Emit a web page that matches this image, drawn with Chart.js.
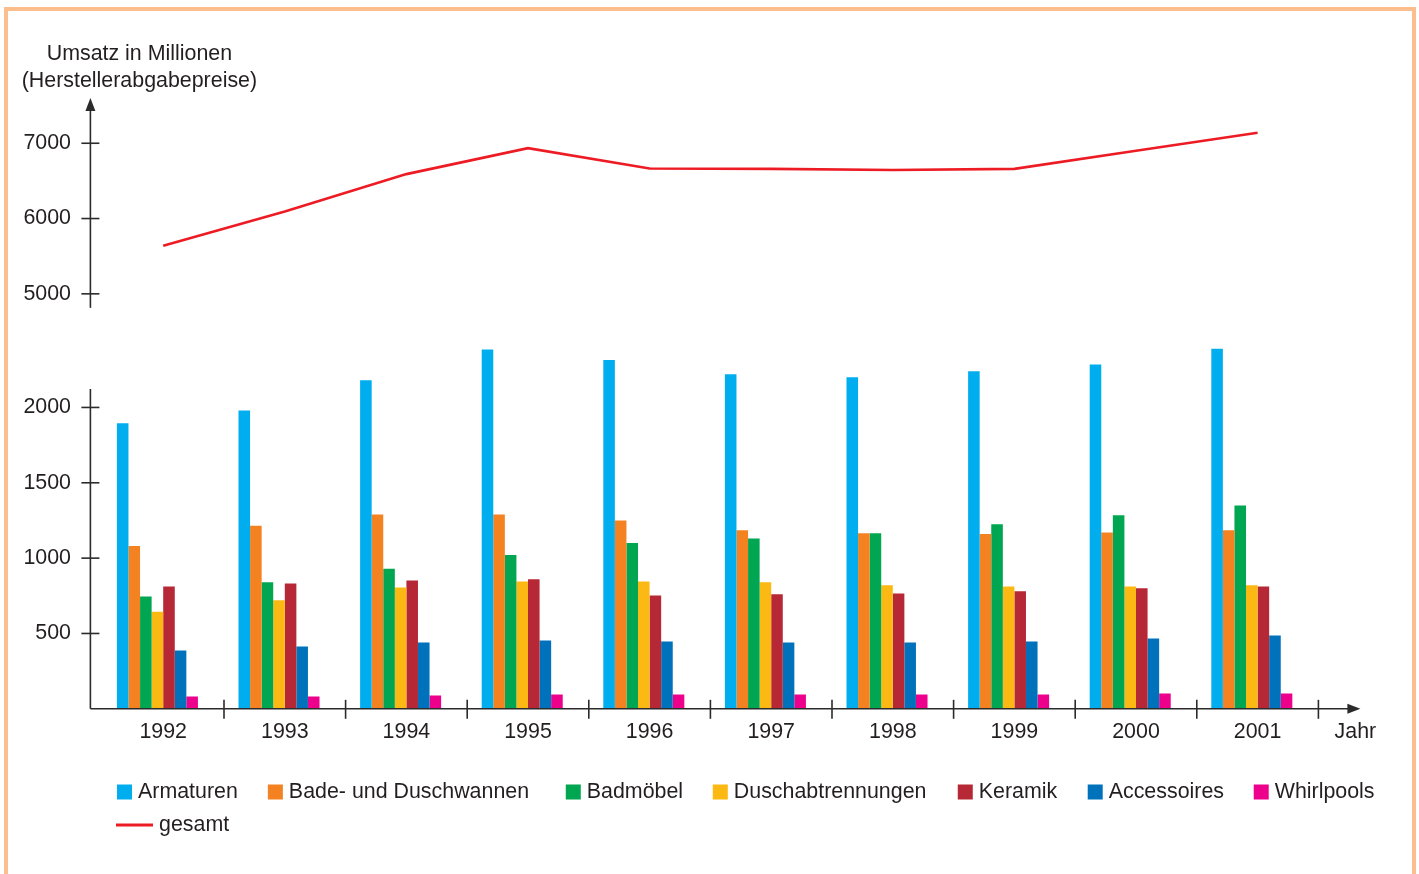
<!DOCTYPE html>
<html>
<head>
<meta charset="utf-8">
<script src="https://cdn.jsdelivr.net/npm/chart.js@4.4.1/dist/chart.umd.min.js"></script>
<style>
  html, body { margin: 0; padding: 0; background: #ffffff; }
  #wrap { position: relative; width: 1419px; height: 874px; overflow: hidden; background: #fff; }
  #frame { position: absolute; left: 4px; top: 7px; width: 1412px; height: 1000px;
           border: 4px solid #FBBE8C; box-sizing: border-box; }
  #c { position: absolute; left: 0; top: 0; }
</style>
</head>
<body>
<div id="wrap">
  <div id="frame"></div>
  <canvas id="c" width="1419" height="874"></canvas>
</div>
<script>
// ---------- data ----------
const years = ['1992', '1993', '1994', '1995', '1996', '1997', '1998', '1999', '2000', '2001'];
const armaturen   = [1895, 1980, 2180, 2385, 2315, 2220, 2200, 2240, 2285, 2390];
const badeDusch   = [1080, 1215, 1290, 1290, 1250, 1185, 1165, 1160, 1170, 1185];
const badmoebel   = [745, 840, 930, 1020, 1100, 1130, 1165, 1225, 1285, 1350];
const duschabtr   = [645, 720, 805, 845, 845, 840, 820, 812, 812, 820];
const keramik     = [812, 832, 852, 860, 752, 760, 766, 780, 800, 812];
const accessoires = [387, 414, 440, 454, 447, 440, 440, 447, 467, 487];
const whirlpools  = [82, 82, 88, 95, 95, 95, 95, 95, 102, 102];
const gesamt      = [5640, 6095, 6590, 6935, 6665, 6660, 6645, 6660, 6900, 7140];
const lowerTicks  = [500, 1000, 1500, 2000];
const upperTicks  = [5000, 6000, 7000];
const seriesNames = ['Armaturen', 'Bade- und Duschwannen', 'Badmöbel', 'Duschabtrennungen',
                     'Keramik', 'Accessoires', 'Whirlpools'];
const lineName    = 'gesamt';
const yTitle      = ['Umsatz in Millionen', '(Herstellerabgabepreise)'];
const xTitle      = 'Jahr';

// ---------- styles ----------
const S = {
  font: "'Liberation Sans', Arial, Helvetica, sans-serif",
  size: 21.4,
  text: '#231F20',
  axis: '#2b2b2b',
  axisW: 1.6,
  colors: ['#00AEEF', '#F58220', '#00A651', '#FDB913', '#B72837', '#0072BC', '#EC008C'],
  lineColor: '#ED1C24',
  axisInset: 12,       // y axis line sits left of first category
  lowerAxisTop: 2122,  // value where the drawn lower axis line ends
  tickHalf: 9,
  arrowLen: 13, arrowHalf: 5,
  xAxisExtra: 42,
  legend: { x0: 117, y0: 792, rowH: 33, box: 15, lineW: 37, lineWidth: 3, textGap: 6,
            gaps: [30, 36.7, 29.7, 31.3, 30.5, 29.7, 30], maxRight: 1400 },
  yTitle: { dx: 49, line1: -44, line2: -17 },
  xTitleDx: 37
};

const seriesData = [armaturen, badeDusch, badmoebel, duschabtr, keramik, accessoires, whirlpools];

const datasets = seriesData.map((d, i) => ({
  label: seriesNames[i],
  data: d,
  backgroundColor: S.colors[i],
  borderWidth: 0,
  xAxisID: 'x',
  yAxisID: 'y'
}));
// empty slot so the 7 bars sit slightly left of the category centre, as in the original
datasets.push({ label: '', data: years.map(() => null), isSpacer: true, xAxisID: 'x', yAxisID: 'y' });
datasets.push({
  type: 'line', label: lineName, data: gesamt,
  borderColor: S.lineColor, backgroundColor: S.lineColor, borderWidth: 2.6,
  pointRadius: 0, tension: 0, fill: false, xAxisID: 'x', yAxisID: 'yTop', order: -1
});

const tickFont = { family: S.font, size: S.size };

function setTicks(list) {
  return (scale) => { scale.ticks = list.map(v => ({ value: v })); };
}
function fixWidth(scale) { scale.width = 88.4; }
const plainLabel = (v) => String(v);

const deco = {
  id: 'deco',
  afterDatasetsDraw(chart) {
    const { ctx, chartArea, scales } = chart;
    const x = scales.x, yB = scales.y, yT = scales.yTop;
    const ax = chartArea.left - S.axisInset;
    const base = yB.getPixelForValue(0);
    ctx.save();
    ctx.strokeStyle = S.axis;
    ctx.fillStyle = S.axis;
    ctx.lineWidth = S.axisW;
    const seg = (x1, y1, x2, y2) => { ctx.beginPath(); ctx.moveTo(x1, y1); ctx.lineTo(x2, y2); ctx.stroke(); };

    // lower y axis
    seg(ax, yB.getPixelForValue(S.lowerAxisTop), ax, base);
    // upper y axis with arrow
    seg(ax, yT.bottom, ax, yT.top + S.arrowLen - 1);
    ctx.beginPath();
    ctx.moveTo(ax, yT.top);
    ctx.lineTo(ax - S.arrowHalf, yT.top + S.arrowLen);
    ctx.lineTo(ax + S.arrowHalf, yT.top + S.arrowLen);
    ctx.closePath(); ctx.fill();
    // x axis with arrow
    const xEnd = chartArea.right + S.xAxisExtra;
    seg(ax, base, xEnd - S.arrowLen + 1, base);
    ctx.beginPath();
    ctx.moveTo(xEnd, base);
    ctx.lineTo(xEnd - S.arrowLen, base - S.arrowHalf);
    ctx.lineTo(xEnd - S.arrowLen, base + S.arrowHalf);
    ctx.closePath(); ctx.fill();

    // y tick marks
    upperTicks.forEach(v => { const p = yT.getPixelForValue(v); seg(ax - S.tickHalf, p, ax + S.tickHalf, p); });
    lowerTicks.forEach(v => { const p = yB.getPixelForValue(v); seg(ax - S.tickHalf, p, ax + S.tickHalf, p); });
    // x tick marks at category boundaries
    const half = (x.getPixelForValue(1) - x.getPixelForValue(0)) / 2;
    years.forEach((_, i) => {
      const p = x.getPixelForValue(i) + half;
      seg(p, base - S.tickHalf, p, base + S.tickHalf + 1);
    });

    // texts
    ctx.font = `${S.size}px ${S.font}`;
    ctx.fillStyle = S.text;
    ctx.textBaseline = 'middle';
    // x axis title, on the row of the year labels
    const labelY = x.top + x.options.ticks.padding + S.size * 1.2 / 2;
    ctx.textAlign = 'center';
    ctx.fillText(xTitle, chartArea.right + S.xTitleDx, labelY);
    // y axis title
    ctx.fillText(yTitle[0], ax + S.yTitle.dx, chartArea.top + S.yTitle.line1);
    ctx.fillText(yTitle[1], ax + S.yTitle.dx, chartArea.top + S.yTitle.line2);

    // legend
    const L = S.legend;
    const items = chart.data.datasets.filter(d => !d.isSpacer);
    let lx = L.x0, ly = L.y0;
    ctx.textAlign = 'left';
    items.forEach((d, i) => {
      const isLine = d.type === 'line';
      const mw = isLine ? L.lineW : L.box;
      const tw = ctx.measureText(d.label).width;
      if (lx + mw + L.textGap + tw > L.maxRight) { lx = L.x0 - 1; ly += L.rowH; }
      if (isLine) {
        ctx.strokeStyle = d.borderColor; ctx.lineWidth = L.lineWidth;
        seg(lx, ly, lx + mw, ly);
      } else {
        ctx.fillStyle = d.backgroundColor;
        ctx.fillRect(lx, ly - L.box / 2, L.box, L.box);
      }
      ctx.fillStyle = S.text;
      ctx.fillText(d.label, lx + mw + L.textGap, ly);
      lx += mw + L.textGap + tw + L.gaps[i];
    });
    ctx.restore();
  }
};

new Chart(document.getElementById('c'), {
  type: 'bar',
  data: { labels: years, datasets },
  options: {
    responsive: false,
    animation: false,
    devicePixelRatio: 1,
    layout: { padding: { left: 14, right: 100.6, top: 98, bottom: 119.5 } },
    datasets: { bar: { barPercentage: 1, categoryPercentage: 0.7615 } },
    plugins: { legend: { display: false }, tooltip: { enabled: false }, title: { display: false } },
    scales: {
      x: {
        type: 'category', position: 'bottom', offset: true,
        grid: { display: false, drawTicks: false }, border: { display: false },
        ticks: { font: tickFont, color: S.text, padding: 10, maxRotation: 0, autoSkip: false }
      },
      yTop: {
        type: 'linear', position: 'left', stack: 'left', stackWeight: 210, weight: 3,
        min: 4814, max: 7601,
        afterBuildTicks: setTicks(upperTicks), afterFit: fixWidth,
        grid: { display: false, drawTicks: false }, border: { display: false },
        ticks: { font: tickFont, color: S.text, padding: 31.4, callback: plainLabel }
      },
      yGap: {
        type: 'linear', position: 'left', stack: 'left', stackWeight: 27, weight: 2,
        min: 0, max: 1, display: false
      },
      y: {
        type: 'linear', position: 'left', stack: 'left', stackWeight: 374.3, weight: 1,
        min: 0, max: 2482,
        afterBuildTicks: setTicks(lowerTicks), afterFit: fixWidth,
        grid: { display: false, drawTicks: false }, border: { display: false },
        ticks: { font: tickFont, color: S.text, padding: 31.4, callback: plainLabel }
      }
    }
  },
  plugins: [deco]
});
</script>
</body>
</html>
